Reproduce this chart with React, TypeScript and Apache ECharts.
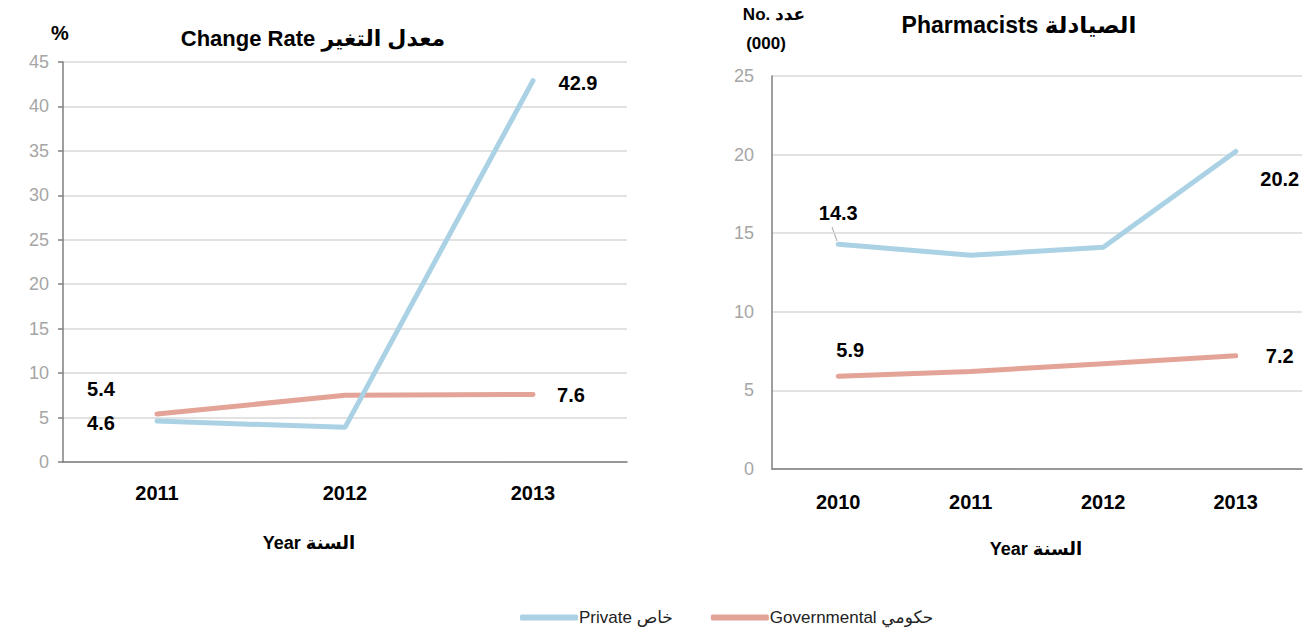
import React, { useEffect, useRef } from "react";
import * as echarts from "echarts";

const rateYears = ["2011", "2012", "2013"];
const ratePrivate = [4.6, 3.9, 42.9];
const rateGov = [5.4, 7.5, 7.6];

const pharmYears = ["2010", "2011", "2012", "2013"];
const pharmPrivate = [14.3, 13.6, 14.1, 20.2];
const pharmGov = [5.9, 6.2, 6.7, 7.2];

const PRIVATE_NAME = "Private خاص";
const GOV_NAME = "Governmental حكومي";
const BLUE = "#abd2e4";
const RED = "#e3a397";
const FONT = "'Liberation Sans', 'DejaVu Sans', sans-serif";

function lbl(text: string, dx: number, dy: number) {
  return {
    show: true,
    position: "inside",
    offset: [dx, dy],
    formatter: text,
    color: "#000",
    fontWeight: "bold",
    fontSize: 20,
    fontFamily: FONT,
  };
}

function makeData(vals: number[], labels: Record<number, any>) {
  return vals.map((v, i) => (labels[i] ? { value: v, label: labels[i] } : { value: v, label: { show: false } }));
}

export default function App() {
  const ref = useRef<HTMLDivElement>(null);
  useEffect(() => {
    if (!ref.current) return;
    const chart = echarts.init(ref.current, null, { renderer: "svg" });
    const yAxisCommon = (max: number, showTick: boolean, margin: number) => ({
      type: "value",
      min: 0,
      max,
      interval: 5,
      axisLine: { show: true, lineStyle: { color: "#7f7f7f", width: 1.5 } },
      axisTick: { show: showTick, length: 5, lineStyle: { color: "#7f7f7f", width: 1.5 } },
      axisLabel: { color: "#a6a6a6", fontSize: 18, fontFamily: FONT, margin },
      splitLine: { lineStyle: { color: "#d9d9d9", width: 1.5 } },
    });
    const xAxisCommon = (data: string[], margin: number) => ({
      type: "category",
      data,
      boundaryGap: true,
      axisLine: { show: true, lineStyle: { color: "#7f7f7f", width: 1.5 } },
      axisTick: { show: false },
      axisLabel: { color: "#000", fontWeight: "bold", fontSize: 20, fontFamily: FONT, margin },
    });
    const lineCommon = {
      type: "line",
      symbol: "circle",
      symbolSize: 1,
      z: 3,
    };
    const textStyle = (text: string, size: number) => ({
      text,
      fontSize: size,
      fontWeight: "bold",
      fontFamily: FONT,
      fill: "#000",
      align: "center",
      verticalAlign: "middle",
    });
    chart.setOption({
      animation: false,
      backgroundColor: "#fff",
      grid: [
        { left: 63, top: 62, width: 564, height: 400 },
        { left: 772, top: 76, width: 530, height: 393 },
      ],
      xAxis: [
        { ...xAxisCommon(rateYears, 21), gridIndex: 0 },
        { ...xAxisCommon(pharmYears, 23), gridIndex: 1 },
      ],
      yAxis: [
        { ...yAxisCommon(45, true, 14), gridIndex: 0 },
        { ...yAxisCommon(25, false, 18), gridIndex: 1 },
      ],
      legend: {
        left: 520,
        top: 609,
        padding: 0,
        itemWidth: 58,
        itemHeight: 6,
        itemGap: 38,
        icon: "roundRect",
        textStyle: { color: "#222", fontSize: 17, fontFamily: FONT, padding: [0, 0, 0, -4] },
        data: [PRIVATE_NAME, GOV_NAME],
      },
      series: [
        {
          ...lineCommon,
          name: GOV_NAME,
          xAxisIndex: 0,
          yAxisIndex: 0,
          color: RED,
          lineStyle: { color: RED, width: 5, cap: "round" },
          itemStyle: { color: RED },
          data: makeData(rateGov, { 0: lbl("5.4", -56, -25), 2: lbl("7.6", 38, 1) }),
        },
        {
          ...lineCommon,
          name: PRIVATE_NAME,
          xAxisIndex: 0,
          yAxisIndex: 0,
          color: BLUE,
          lineStyle: { color: BLUE, width: 5, cap: "round" },
          itemStyle: { color: BLUE },
          data: makeData(ratePrivate, { 0: lbl("4.6", -56, 2), 2: lbl("42.9", 45, 2) }),
        },
        {
          ...lineCommon,
          name: PRIVATE_NAME,
          xAxisIndex: 1,
          yAxisIndex: 1,
          color: BLUE,
          lineStyle: { color: BLUE, width: 5, cap: "round" },
          itemStyle: { color: BLUE },
          data: makeData(pharmPrivate, { 0: lbl("14.3", 0, -31), 3: lbl("20.2", 44, 28) }),
        },
        {
          ...lineCommon,
          name: GOV_NAME,
          xAxisIndex: 1,
          yAxisIndex: 1,
          color: RED,
          lineStyle: { color: RED, width: 5, cap: "round" },
          itemStyle: { color: RED },
          data: makeData(pharmGov, { 0: lbl("5.9", 12, -26), 3: lbl("7.2", 44, 0) }),
        },
      ],
      graphic: [
        { type: "text", x: 313, y: 38, style: textStyle("Change Rate معدل التغير", 22) },
        { type: "text", x: 60, y: 33, style: textStyle("%", 20) },
        { type: "text", x: 1019, y: 25, style: textStyle("Pharmacists الصيادلة", 23) },
        { type: "text", x: 774, y: 14, style: textStyle("No. عدد", 17) },
        { type: "text", x: 766, y: 43, style: textStyle("(000)", 17) },
        { type: "text", x: 309, y: 543, style: textStyle("Year السنة", 18) },
        { type: "text", x: 1036, y: 549, style: textStyle("Year السنة", 18) },
        {
          type: "line",
          shape: { x1: 832, y1: 227, x2: 837, y2: 241 },
          style: { stroke: "#a6a6a6", lineWidth: 1 },
        },
      ],
    });
    return () => chart.dispose();
  }, []);
  return <div ref={ref} style={{ position: "fixed", left: 0, top: 0, width: 1313, height: 634 }} />;
}
